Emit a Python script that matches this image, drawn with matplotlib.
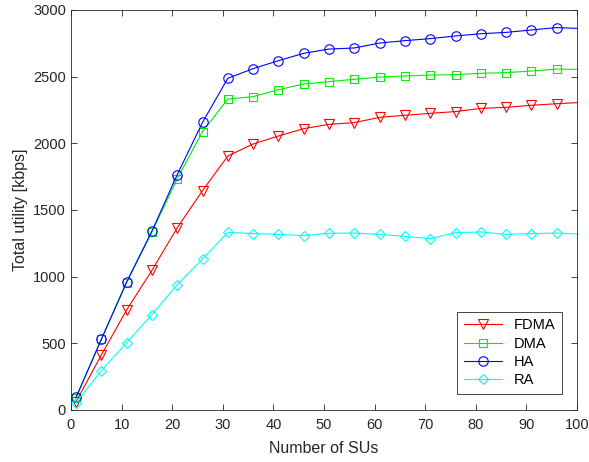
import numpy as np
import matplotlib.pyplot as plt

plt.rcParams['font.family'] = ['Liberation Sans', 'DejaVu Sans']

# number of SUs (markers every 5, curve runs on to 100)
n_sus = [1, 6, 11, 16, 21, 26, 31, 36, 41, 46, 51, 56, 61, 66, 71, 76, 81, 86, 91, 96, 100]

fdma = [62, 412, 750, 1047, 1367, 1645, 1905, 1995, 2055, 2110, 2142, 2155, 2195,
        2210, 2225, 2238, 2262, 2270, 2285, 2297, 2305]
dma = [90, 530, 955, 1335, 1735, 2088, 2332, 2350, 2402, 2445, 2463, 2480, 2497,
       2505, 2512, 2515, 2525, 2530, 2542, 2557, 2555]
ha = [95, 530, 960, 1342, 1765, 2157, 2488, 2560, 2620, 2675, 2707, 2715, 2752,
      2770, 2785, 2805, 2822, 2832, 2850, 2868, 2862]
ra = [55, 295, 505, 715, 940, 1132, 1332, 1323, 1317, 1308, 1325, 1327, 1317,
      1302, 1285, 1330, 1335, 1317, 1323, 1327, 1320]

series = [
    ('FDMA', fdma, 'red', 'v', 7.5),
    ('DMA', dma, '#00ee00', 's', 5.5),
    ('HA', ha, 'blue', 'o', 6.8),
    ('RA', ra, 'cyan', 'D', 5.5),
]

fig = plt.figure(figsize=(5.89, 4.62), dpi=100)
ax = fig.add_axes([0.1205, 0.1126, 0.8591, 0.8658])

marks = list(range(len(n_sus) - 1))
for name, vals, col, mk, ms in series:
    ax.plot(n_sus, vals, color=col, marker=mk, markerfacecolor='none',
            markeredgecolor=col, markersize=ms, markeredgewidth=0.8,
            linewidth=0.8, markevery=marks, label=name)

ax.set_xlim(0, 100)
ax.set_ylim(0, 3000)
ax.set_xticks(np.arange(0, 101, 10))
ax.set_yticks(np.arange(0, 3001, 500))
ax.tick_params(direction='in', top=True, right=True, labelsize=10.5,
               length=4, width=0.6, colors='#262626')
ax.tick_params(axis='x', pad=6)
for sp in ax.spines.values():
    sp.set_color('#262626')
    sp.set_linewidth(0.6)

ax.set_xlabel('Number of SUs', fontsize=11.5, color='#262626', labelpad=6)
ax.set_ylabel('Total utility [kbps]', fontsize=11.5, color='#262626')

leg = ax.legend(loc='lower right', bbox_to_anchor=(0.97, 0.04), borderaxespad=0,
                fontsize=10.5, fancybox=False, edgecolor='#262626', framealpha=1,
                handlelength=2.6, borderpad=0.45, labelspacing=0.3)
leg.get_frame().set_linewidth(0.6)

fig.savefig('out.png', dpi=100)
